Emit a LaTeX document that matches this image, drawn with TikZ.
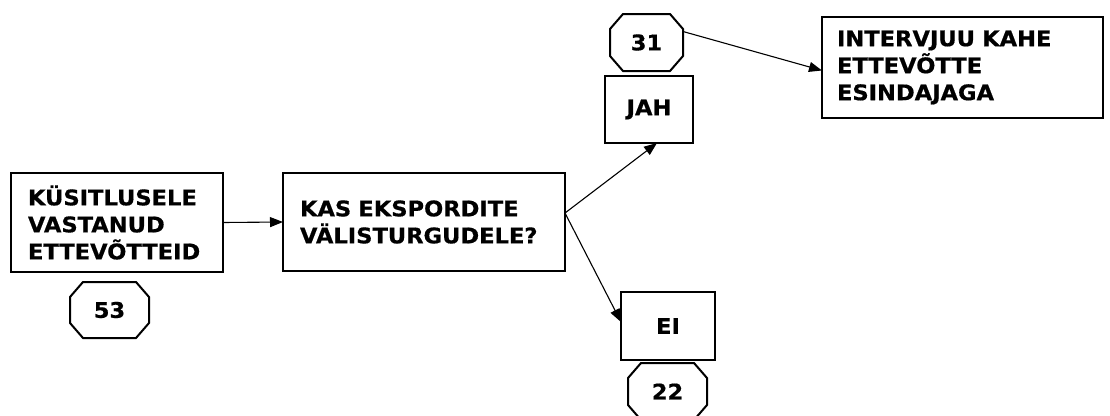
\documentclass[tikz,border=0pt]{standalone}
\usepackage{fontspec}
\setmainfont{DejaVu Sans}[FakeStretch=1.05, BoldFeatures={FakeBold=0.6}]
\usetikzlibrary{arrows.meta}
\tikzset{
  box/.style={draw=black, line width=2.4pt, rectangle, outer sep=0pt, inner ysep=0pt,
    font=\fontsize{21.5}{27}\selectfont\bfseries, align=left},
  smallbox/.style={draw=black, line width=2.4pt, rectangle, outer sep=0pt, inner sep=0pt,
    font=\fontsize{21.5}{27}\selectfont\bfseries, align=center},
  octo/.style={draw=none, rectangle, outer sep=0pt, inner sep=0pt,
    font=\fontsize{21.5}{27}\selectfont\bfseries},
  octline/.style={draw=black, line width=2pt, line join=miter},
  conn/.style={draw=black, line width=1.1pt, -{Triangle[length=13pt,width=10pt]}}
}
\newcommand\octnode[5]{%
  \node[octo, minimum width=#3, minimum height=#4] (#1) at (#2) {#5};
  \draw[octline] ([xshift=13pt]#1.north west) -- ([xshift=-13pt]#1.north east)
    -- ([yshift=-15pt]#1.north east) -- ([yshift=15pt]#1.south east)
    -- ([xshift=-13pt]#1.south east) -- ([xshift=13pt]#1.south west)
    -- ([yshift=15pt]#1.south west) -- ([yshift=-15pt]#1.north west) -- cycle;
}
\begin{document}
\begin{tikzpicture}[x=1pt,y=-1pt]
\useasboundingbox (0,0) rectangle (1110,415);
\node[box, minimum width=212pt, minimum height=99pt, inner xsep=17pt, text width=178pt]
  (b1) at (117,222.5) {KÜSITLUSELE\\VASTANUD\\ETTEVÕTTEID};
\node[box, minimum width=282pt, minimum height=98pt, inner xsep=17pt, text width=248pt]
  (b2) at (424,222) {KAS EKSPORDITE\\VÄLISTURGUDELE?};
\node[smallbox, minimum width=88pt, minimum height=67pt] (jah) at (649,109.5) {JAH};
\node[smallbox, minimum width=94pt, minimum height=68pt] (ei) at (668,326) {EI};
\node[box, minimum width=281pt, minimum height=101pt, inner xsep=15pt, text width=251pt]
  (iv) at (962.5,67.5) {INTERVJUU KAHE\\ETTEVÕTTE\\ESINDAJAGA};
\octnode{o53}{109.5,310}{79pt}{56pt}{53}
\octnode{o31}{646.5,42.5}{73pt}{57pt}{31}
\octnode{o22}{667.5,391.5}{79pt}{57pt}{22}
\draw[conn] (b1.east) -- (b2.west);
\draw[conn] ([yshift=9pt]b2.east) -- ([xshift=8pt]jah.south);
\draw[conn] ([yshift=9pt]b2.east) -- ([yshift=4pt]ei.west);
\draw[conn] ([yshift=11pt]o31.east) -- ([yshift=-3pt]iv.west);
\end{tikzpicture}
\end{document}
